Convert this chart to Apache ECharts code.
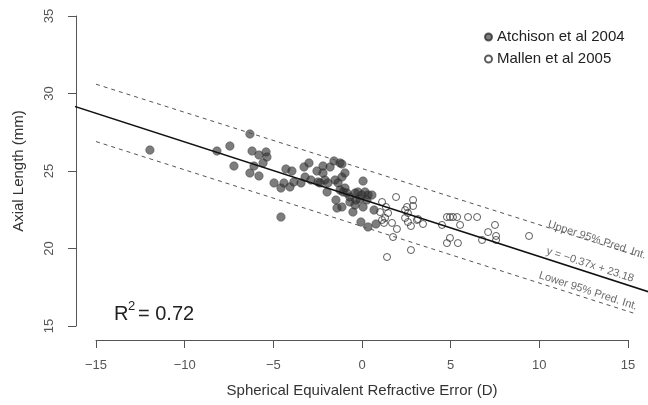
<!DOCTYPE html>
<html><head><meta charset="utf-8">
<script src="https://cdn.jsdelivr.net/npm/echarts@6/dist/echarts.min.js"></script>
<style>html,body{margin:0;padding:0;background:#fff}#c{width:648px;height:405px}</style>
</head><body><div id="c"></div>
<script>
// ---- data ----
const atchison = [
 [-11.96,26.35],[-8.18,26.29],[-7.45,26.61],[-6.32,27.39],[-6.20,26.29],[-5.81,26.03],
 [-5.41,26.23],[-5.36,25.90],[-5.58,25.52],[-6.09,25.32],[-7.22,25.32],[-6.32,24.87],
 [-5.81,24.68],[-4.96,24.23],[-4.57,23.90],[-4.40,24.23],[-4.29,25.13],[-3.95,25.00],
 [-4.06,23.97],[-3.84,24.29],[-3.44,24.23],[-3.27,25.26],[-2.99,25.52],[-3.21,24.61],
 [-2.88,24.42],[-2.54,25.00],[-2.48,24.29],[-2.20,25.32],[-2.09,24.42],[-1.92,24.23],
 [-1.80,25.26],[-1.58,25.65],[-1.97,23.65],[-2.37,24.23],[-1.47,23.13],[-1.24,25.52],
 [-1.41,22.61],[-4.57,22.03],[-1.13,25.45],[-2.20,24.87],[-1.52,24.42],[-1.35,24.23],
 [-1.13,24.61],[-0.96,24.87],[-0.96,23.90],[-1.13,22.68],[-0.68,23.00],[-0.51,22.35],
 [-0.85,23.58],[-0.39,23.58],[-0.23,23.65],[0.00,23.45],[0.17,23.65],[0.34,23.45],
 [-0.11,23.19],[0.28,23.13],[0.56,23.45],[0.06,24.35],[0.68,22.48],[-0.06,21.71],
 [0.34,21.39],[0.79,21.58],[0.06,22.68],[-1.07,23.65],[-0.68,23.32],[-0.34,23.13],
 [-1.24,23.77],[-0.39,22.81]
];
const mallen = [
 [1.13,23.00],[1.35,22.68],[1.47,22.29],[1.30,21.97],[1.13,21.84],[1.24,21.65],
 [1.69,21.65],[1.97,21.26],[1.75,20.74],[1.41,19.45],[1.92,23.32],[2.54,22.68],
 [2.43,22.48],[2.59,22.29],[2.43,21.97],[2.59,21.71],[2.76,21.45],[3.10,21.84],
 [2.76,19.90],[2.88,23.13],[2.88,22.74],[3.16,21.90],[3.44,21.58],[4.51,21.52],
 [4.79,22.03],[4.96,22.03],[5.13,22.03],[5.36,22.03],[5.53,21.52],[5.98,22.03],
 [6.49,22.03],[4.79,20.35],[4.96,20.68],[5.41,20.35],[6.77,20.55],[7.11,21.06],
 [7.50,21.52],[7.56,20.81],[7.56,20.55],[9.42,20.81],[1.02,22.35]
];
const fitLine = [[-16.2,29.17],[16.2,17.19]];
const upperPI = [[-15,30.6],[15.6,19.5]];
const lowerPI = [[-15,26.9],[15.4,15.8]];
const xTickRange = [-15, 15];
const yTickRange = [15, 35];
const xPlotRange = [-16.128, 16.128];
const yPlotRange = [14.097, 35.903];
const tickStep = 5;
const seriesNames = ['Atchison et al 2004', 'Mallen et al 2005'];
const annotations = [
 {text:'Upper 95% Pred. Int.', at:[13.25,20.55]},
 {text:'y = \u22120.37x + 23.18', at:[12.86,18.94]},
 {text:'Lower 95% Pred. Int.', at:[12.75,17.26]}
];

// ---- chart ----
const FONT = "'Liberation Sans', Arial, Helvetica, sans-serif";
const chart = echarts.init(document.getElementById('c'), null, {renderer:'canvas'});
const minus = v => String(v).replace('-', '\u2212');
const hiddenAxis = {show:false, splitLine:{show:false}};
chart.setOption({
  animation:false,
  backgroundColor:'#fff',
  grid:[
    {left:96, right:20, top:16, bottom:79},   // axes (R-style, offset)
    {left:76, right:0, top:2, bottom:65}      // plotting region
  ],
  xAxis:[
    {gridIndex:0, type:'value', min:xTickRange[0], max:xTickRange[1], interval:tickStep, offset:14,
      splitLine:{show:false},
      axisLine:{show:true, onZero:false, lineStyle:{color:'#555', width:1}},
      axisTick:{show:true, inside:false, length:8, lineStyle:{color:'#555'}},
      axisLabel:{color:'#555', fontSize:13, fontFamily:FONT, margin:19, formatter:minus}},
    Object.assign({gridIndex:1, type:'value', min:xPlotRange[0], max:xPlotRange[1]}, hiddenAxis)
  ],
  yAxis:[
    {gridIndex:0, type:'value', min:yTickRange[0], max:yTickRange[1], interval:tickStep, offset:20,
      splitLine:{show:false},
      axisLine:{show:true, onZero:false, lineStyle:{color:'#555', width:1}},
      axisTick:{show:true, inside:false, length:8, lineStyle:{color:'#555'}},
      axisLabel:{color:'#555', fontSize:13, fontFamily:FONT, rotate:90, margin:20, formatter:minus}},
    Object.assign({gridIndex:1, type:'value', min:yPlotRange[0], max:yPlotRange[1]}, hiddenAxis)
  ],
  legend:{orient:'vertical', left:479, top:24, itemWidth:7, itemHeight:7, itemGap:6,
    textStyle:{fontSize:15, fontFamily:FONT, color:'#222', lineHeight:16},
    data:seriesNames},
  series:[
    {type:'line', xAxisIndex:1, yAxisIndex:1, data:fitLine, symbol:'none', silent:true,
      lineStyle:{color:'#111', width:1.5}},
    {type:'line', xAxisIndex:1, yAxisIndex:1, data:upperPI, symbol:'none', silent:true,
      lineStyle:{color:'#555', width:1, type:[4,4]}},
    {type:'line', xAxisIndex:1, yAxisIndex:1, data:lowerPI, symbol:'none', silent:true,
      lineStyle:{color:'#555', width:1, type:[4,4]}},
    {name:seriesNames[0], xAxisIndex:1, yAxisIndex:1, type:'scatter', data:atchison, symbol:'circle', symbolSize:8.5,
      itemStyle:{color:'rgba(52,52,52,0.8)', borderColor:'rgba(35,35,35,0.9)', borderWidth:0.5}},
    {name:seriesNames[1], xAxisIndex:1, yAxisIndex:1, type:'scatter', data:mallen, symbol:'circle', symbolSize:7,
      itemStyle:{color:'rgba(255,255,255,0)', borderColor:'#333', borderWidth:1}},
    {type:'scatter', xAxisIndex:1, yAxisIndex:1, silent:true, symbolSize:0, clip:false,
      data:annotations.map(a=>({value:a.at, name:a.text})),
      label:{show:true, position:'inside', formatter:p=>p.name, rotate:-18,
        color:'#444', fontSize:11, fontFamily:FONT}}
  ],
  graphic:[
    {type:'text', x:362, y:391, style:{text:'Spherical Equivalent Refractive Error (D)',
      font:'15px '+FONT, fill:'#333', align:'center', verticalAlign:'middle'}},
    {type:'text', x:19, y:171, rotation:Math.PI/2, style:{text:'Axial Length (mm)',
      font:'15px '+FONT, fill:'#333', align:'center', verticalAlign:'middle'}},
    {type:'text', x:114, y:314, style:{text:'R', font:'20px '+FONT, fill:'#222', align:'left', verticalAlign:'middle'}},
    {type:'text', x:128, y:306, style:{text:'2', font:'13px '+FONT, fill:'#222', align:'left', verticalAlign:'middle'}},
    {type:'text', x:138, y:314, style:{text:'= 0.72', font:'20px '+FONT, fill:'#222', align:'left', verticalAlign:'middle'}}
  ]
});
</script></body></html>
